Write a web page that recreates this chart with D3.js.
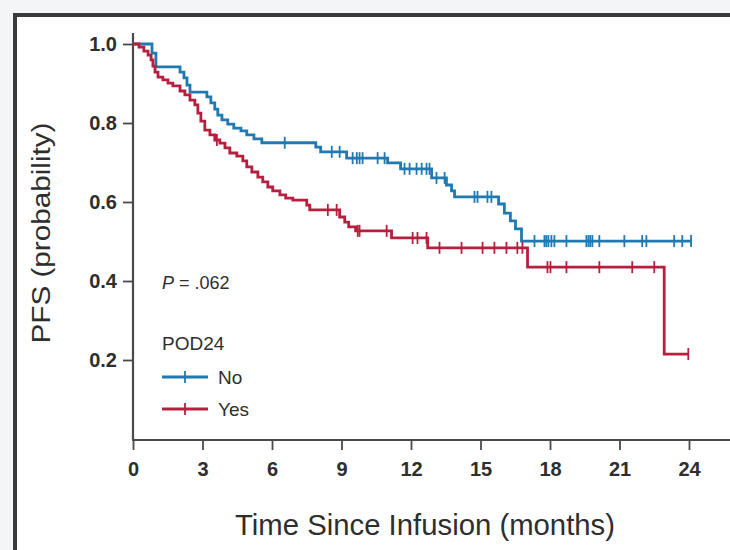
<!DOCTYPE html>
<html>
<head>
<meta charset="utf-8">
<script src="https://cdn.jsdelivr.net/npm/d3@7"></script>
<style>
  body { margin: 0; background: #f4f5f7; }
  svg { display: block; }
  text { font-family: "Liberation Sans", Arial, sans-serif; }
</style>
</head>
<body>
<script>
// POD24 = No
var noTimes = [0.82, 0.99, 2.03, 2.2, 2.33, 2.46, 3.19, 3.36, 3.53, 3.66, 3.84, 4.09, 4.35, 4.66, 4.91, 5.22, 5.56,
               7.89, 8.1, 9.22, 10.99, 11.55, 12.89, 13.53, 13.75, 13.88, 15.78, 16.03, 16.29, 16.51, 16.77];
var noSurv  = [0.977, 0.942, 0.929, 0.914, 0.896, 0.878, 0.866, 0.851, 0.835, 0.82, 0.808, 0.797, 0.787, 0.78, 0.77, 0.76, 0.75,
               0.739, 0.727, 0.711, 0.699, 0.684, 0.661, 0.643, 0.628, 0.613, 0.595, 0.572, 0.552, 0.532, 0.501];
var noCensor = [6.55, 8.58, 8.92, 9.48, 9.66, 9.78, 9.91, 10.56, 10.86, 11.72, 11.94, 12.24, 12.46, 12.67, 12.8,
                13.1, 13.45, 14.74, 14.87, 15.3, 15.47, 17.33, 17.76, 17.84, 17.93, 18.06, 18.19, 18.71,
                19.57, 19.66, 19.74, 19.83, 20.13, 21.21, 21.98, 22.16, 23.36, 23.71, 24.09];
var noEnd = 24.09;

// POD24 = Yes
var yesTimes = [0.26, 0.47, 0.65, 0.78, 0.86, 0.95, 1.08, 1.29, 1.51, 1.72, 2.03, 2.24, 2.46, 2.67, 2.8, 2.93, 3.1,
                3.32, 3.53, 3.75, 3.97, 4.18, 4.48, 4.74, 4.91, 5.13, 5.39, 5.6, 5.82, 6.03, 6.34, 6.59, 6.9,
                7.5, 7.63, 8.92, 9.14, 9.31, 9.61, 11.16, 12.72, 17.03, 22.93];
var yesSurv  = [0.992, 0.982, 0.972, 0.96, 0.944, 0.929, 0.916, 0.909, 0.901, 0.894, 0.881, 0.871, 0.858, 0.846, 0.825, 0.805, 0.782,
                0.77, 0.757, 0.749, 0.737, 0.724, 0.716, 0.704, 0.689, 0.676, 0.663, 0.651, 0.638, 0.628, 0.618, 0.61, 0.605,
                0.592, 0.58, 0.562, 0.549, 0.537, 0.527, 0.509, 0.484, 0.435, 0.215];
var yesCensor = [3.62, 8.41, 8.79, 9.7, 9.78, 10.95, 12.07, 12.28, 12.67, 13.23, 14.18, 15.09, 15.6, 16.12, 16.59, 16.81,
                 17.89, 18.02, 18.71, 20.13, 21.55, 22.5, 23.97];
var yesEnd = 23.97;

var xTicks = [0, 3, 6, 9, 12, 15, 18, 21, 24];
var yTicks = [0.2, 0.4, 0.6, 0.8, 1.0];

var blue = "#2079b0",
    red = "#b61f3e",
    axisCol = "#4a4a4a",
    textCol = "#2e2e2e";

var width = 730, height = 550;

var svg = d3.select("body").append("svg")
    .attr("width", width)
    .attr("height", height);

// white panel with dark frame
svg.append("rect")
    .attr("x", 15).attr("y", 15)
    .attr("width", 740).attr("height", 560)
    .attr("fill", "#fff")
    .attr("stroke", "#3a3a3a")
    .attr("stroke-width", 4);

var x = d3.scaleLinear().domain([0, 24]).range([133, 689]);
var y = d3.scaleLinear().domain([0, 1]).range([439, 44]);

// axes
svg.append("line")
    .attr("x1", x(0)).attr("x2", x(0))
    .attr("y1", 33).attr("y2", 440)
    .attr("stroke", axisCol).attr("stroke-width", 2.2);
svg.append("line")
    .attr("x1", x(0) - 1).attr("x2", 732)
    .attr("y1", 440).attr("y2", 440)
    .attr("stroke", axisCol).attr("stroke-width", 2.2);

var yAxis = d3.axisLeft(y).tickValues(yTicks).tickSize(10).tickPadding(6)
    .tickFormat(d3.format(".1f"));
var gy = svg.append("g").attr("transform", "translate(" + x(0) + ",0)").call(yAxis);
gy.select(".domain").remove();

var xAxis = d3.axisBottom(x).tickValues(xTicks).tickSize(10).tickPadding(12);
var gx = svg.append("g").attr("transform", "translate(0,440)").call(xAxis);
gx.select(".domain").remove();

[gx, gy].forEach(function(g) {
  g.selectAll("line").attr("stroke", axisCol).attr("stroke-width", 1.8);
  g.selectAll("text")
    .style("font-family", "'Liberation Sans', Arial, sans-serif")
    .style("font-size", "20px")
    .style("font-weight", "bold")
    .attr("fill", textCol);
});

// axis titles
svg.append("text")
    .attr("x", 425).attr("y", 535)
    .attr("text-anchor", "middle")
    .attr("textLength", 380)
    .attr("lengthAdjust", "spacingAndGlyphs")
    .style("font-size", "30px")
    .attr("fill", textCol)
    .text("Time Since Infusion (months)");

svg.append("text")
    .attr("transform", "translate(50,233) rotate(-90)")
    .attr("text-anchor", "middle")
    .attr("textLength", 221)
    .attr("lengthAdjust", "spacingAndGlyphs")
    .style("font-size", "25px")
    .attr("fill", textCol)
    .text("PFS (probability)");

// curves
function stepPoints(times, surv, end) {
  var pts = [[0, 1]];
  times.forEach(function(t, i) { pts.push([t, surv[i]]); });
  pts.push([end, surv[surv.length - 1]]);
  return pts;
}

function survAt(times, surv, t) {
  var i = d3.bisectRight(times, t);
  return i === 0 ? 1 : surv[i - 1];
}

var line = d3.line()
    .x(function(d) { return x(d[0]); })
    .y(function(d) { return y(d[1]); })
    .curve(d3.curveStepAfter);

var series = [
  {name: "No", times: noTimes, surv: noSurv, censor: noCensor, end: noEnd, color: blue},
  {name: "Yes", times: yesTimes, surv: yesSurv, censor: yesCensor, end: yesEnd, color: red}
];

series.forEach(function(s) {
  svg.append("path")
      .datum(stepPoints(s.times, s.surv, s.end))
      .attr("d", line)
      .attr("fill", "none")
      .attr("stroke", s.color)
      .attr("stroke-width", 2.8)
      .attr("stroke-linejoin", "miter");

  svg.append("g").selectAll("line")
      .data(s.censor)
    .enter().append("line")
      .attr("x1", function(d) { return x(d); })
      .attr("x2", function(d) { return x(d); })
      .attr("y1", function(d) { return y(survAt(s.times, s.surv, d)) - 6; })
      .attr("y2", function(d) { return y(survAt(s.times, s.surv, d)) + 6; })
      .attr("stroke", s.color)
      .attr("stroke-width", 1.8);
});

// annotation + legend
var pText = svg.append("text")
    .attr("x", 162).attr("y", 289)
    .style("font-size", "18px")
    .attr("fill", textCol);
pText.append("tspan").style("font-style", "italic").text("P");
pText.append("tspan").text(" = .062");

svg.append("text")
    .attr("x", 162).attr("y", 350)
    .style("font-size", "19px")
    .attr("fill", textCol)
    .text("POD24");

var legend = svg.append("g").selectAll("g")
    .data(series)
  .enter().append("g")
    .attr("transform", function(d, i) { return "translate(162," + (377 + i * 32) + ")"; });

legend.append("line")
    .attr("x1", 0).attr("x2", 46)
    .attr("stroke", function(d) { return d.color; })
    .attr("stroke-width", 2.8);
legend.append("line")
    .attr("x1", 23).attr("x2", 23).attr("y1", -6).attr("y2", 6)
    .attr("stroke", function(d) { return d.color; })
    .attr("stroke-width", 1.8);
legend.append("text")
    .attr("x", 56).attr("y", 7)
    .style("font-size", "19px")
    .attr("fill", textCol)
    .text(function(d) { return d.name; });
</script>
</body>
</html>
